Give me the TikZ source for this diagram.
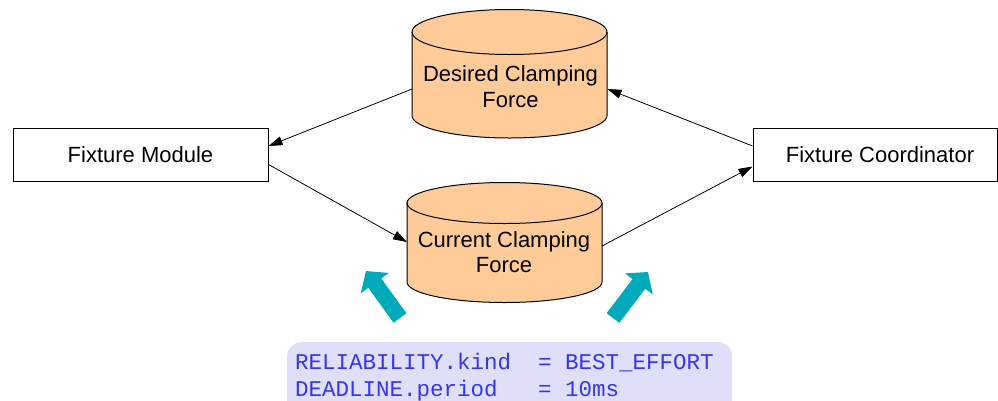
\documentclass[tikz,border=0pt]{standalone}
\usepackage{fontspec}
\setmainfont{Liberation Sans}
\setmonofont{Liberation Mono}
\usetikzlibrary{arrows.meta,calc}
\definecolor{peach}{HTML}{FFCC99}
\definecolor{tealarrow}{HTML}{00AABB}
\definecolor{cfgbg}{HTML}{DFDFF9}
\definecolor{cfgtext}{HTML}{3535EE}
\newcommand{\mycyl}[5]{% #1 cx, #2 top cy, #3 bottom cy, #4 rx, #5 ry
  \pgfmathsetmacro\cxl{#1-#4}\pgfmathsetmacro\cxr{#1+#4}%
  \pgfmathsetmacro\kx{0.5523*#4}\pgfmathsetmacro\ky{0.5523*#5}%
  \fill[peach] (\cxl,#2) -- (\cxl,#3) .. controls (\cxl,#3+\ky) and (#1-\kx,#3+#5) .. (#1,#3+#5)
     .. controls (#1+\kx,#3+#5) and (\cxr,#3+\ky) .. (\cxr,#3) -- (\cxr,#2) -- cycle;
  \fill[peach] (#1,#2) ellipse [x radius=#4pt, y radius=#5pt];
  \draw[cylline] (#1,#2) ellipse [x radius=#4pt, y radius=#5pt];
  \draw[cylline] (\cxl,#2) -- (\cxl,#3) .. controls (\cxl,#3+\ky) and (#1-\kx,#3+#5) .. (#1,#3+#5)
     .. controls (#1+\kx,#3+#5) and (\cxr,#3+\ky) .. (\cxr,#3) -- (\cxr,#2);
}
\tikzset{
  cylline/.style={line width=1pt, black},
  boxnode/.style={draw=black, line width=1pt, fill=white, minimum height=53pt, inner sep=0pt,
    font=\fontsize{22}{25.6}\selectfont},
  cyltext/.style={align=center, inner sep=0pt, font=\fontsize{22}{25.6}\selectfont},
  flow/.style={line width=0.8pt, -{Triangle[length=14pt,width=9pt]}},
  bigarrow/.style={draw=tealarrow, line width=16pt, -{Triangle[length=15pt,width=34pt]}},
  cfgbox/.style={fill=cfgbg, rounded corners=14pt, inner sep=0pt, anchor=north west},
  cfgline/.style={anchor=base west, inner sep=0pt, text=cfgtext, font=\ttfamily\fontsize{22.5}{27}\selectfont},
}
\begin{document}
\begin{tikzpicture}[x=1pt,y=-1pt]
\useasboundingbox (0,0) rectangle (998,400);
% boxes
\node[boxnode, minimum width=255pt] (fm) at (140.5,154.5) {Fixture Module};
\node[boxnode, minimum width=244pt] (fc) at (875,154.5) {\hspace*{10pt}Fixture Coordinator};
% cylinders
\mycyl{509.5}{32}{115.5}{97.5}{22.5}
\node[cyltext] (dcf) at (510.5,86.5) {Desired Clamping\\Force};
\coordinate (dcfW) at (412,89);
\coordinate (dcfE) at (607.5,89);
\mycyl{504.5}{203}{282}{97.5}{20.5}
\node[cyltext] (ccf) at (504,252) {Current Clamping\\Force};
\coordinate (ccfW) at (407,242);
\coordinate (ccfE) at (602,246);
% connectors
\draw[flow] (dcfW) -- ($(fm.east)+(0,-8.5)$);
\draw[flow] ($(fm.east)+(0,10)$) -- (ccfW);
\draw[flow] (ccfE) -- ($(fc.west)+(0,12)$);
\draw[flow] ($(fc.west)+(0,-8.5)$) -- (dcfE);
% config box
\node[cfgbox, minimum width=445pt, minimum height=90pt] (cfg) at (287,342) {};
\node[cfgline] (c1) at (295,369) {RELIABILITY.kind\ \ =\ BEST\_EFFORT};
\node[cfgline] (c2) at (295,396) {DEADLINE.period\ \ \ =\ 10ms};
% big teal arrows
\coordinate (la) at (366,271);
\coordinate (ra) at (648,272);
\draw[bigarrow] ($(cfg.north west)+(113,-24)$) -- (la);
\draw[bigarrow] ($(cfg.north west)+(326,-24)$) -- (ra);
\end{tikzpicture}
\end{document}
